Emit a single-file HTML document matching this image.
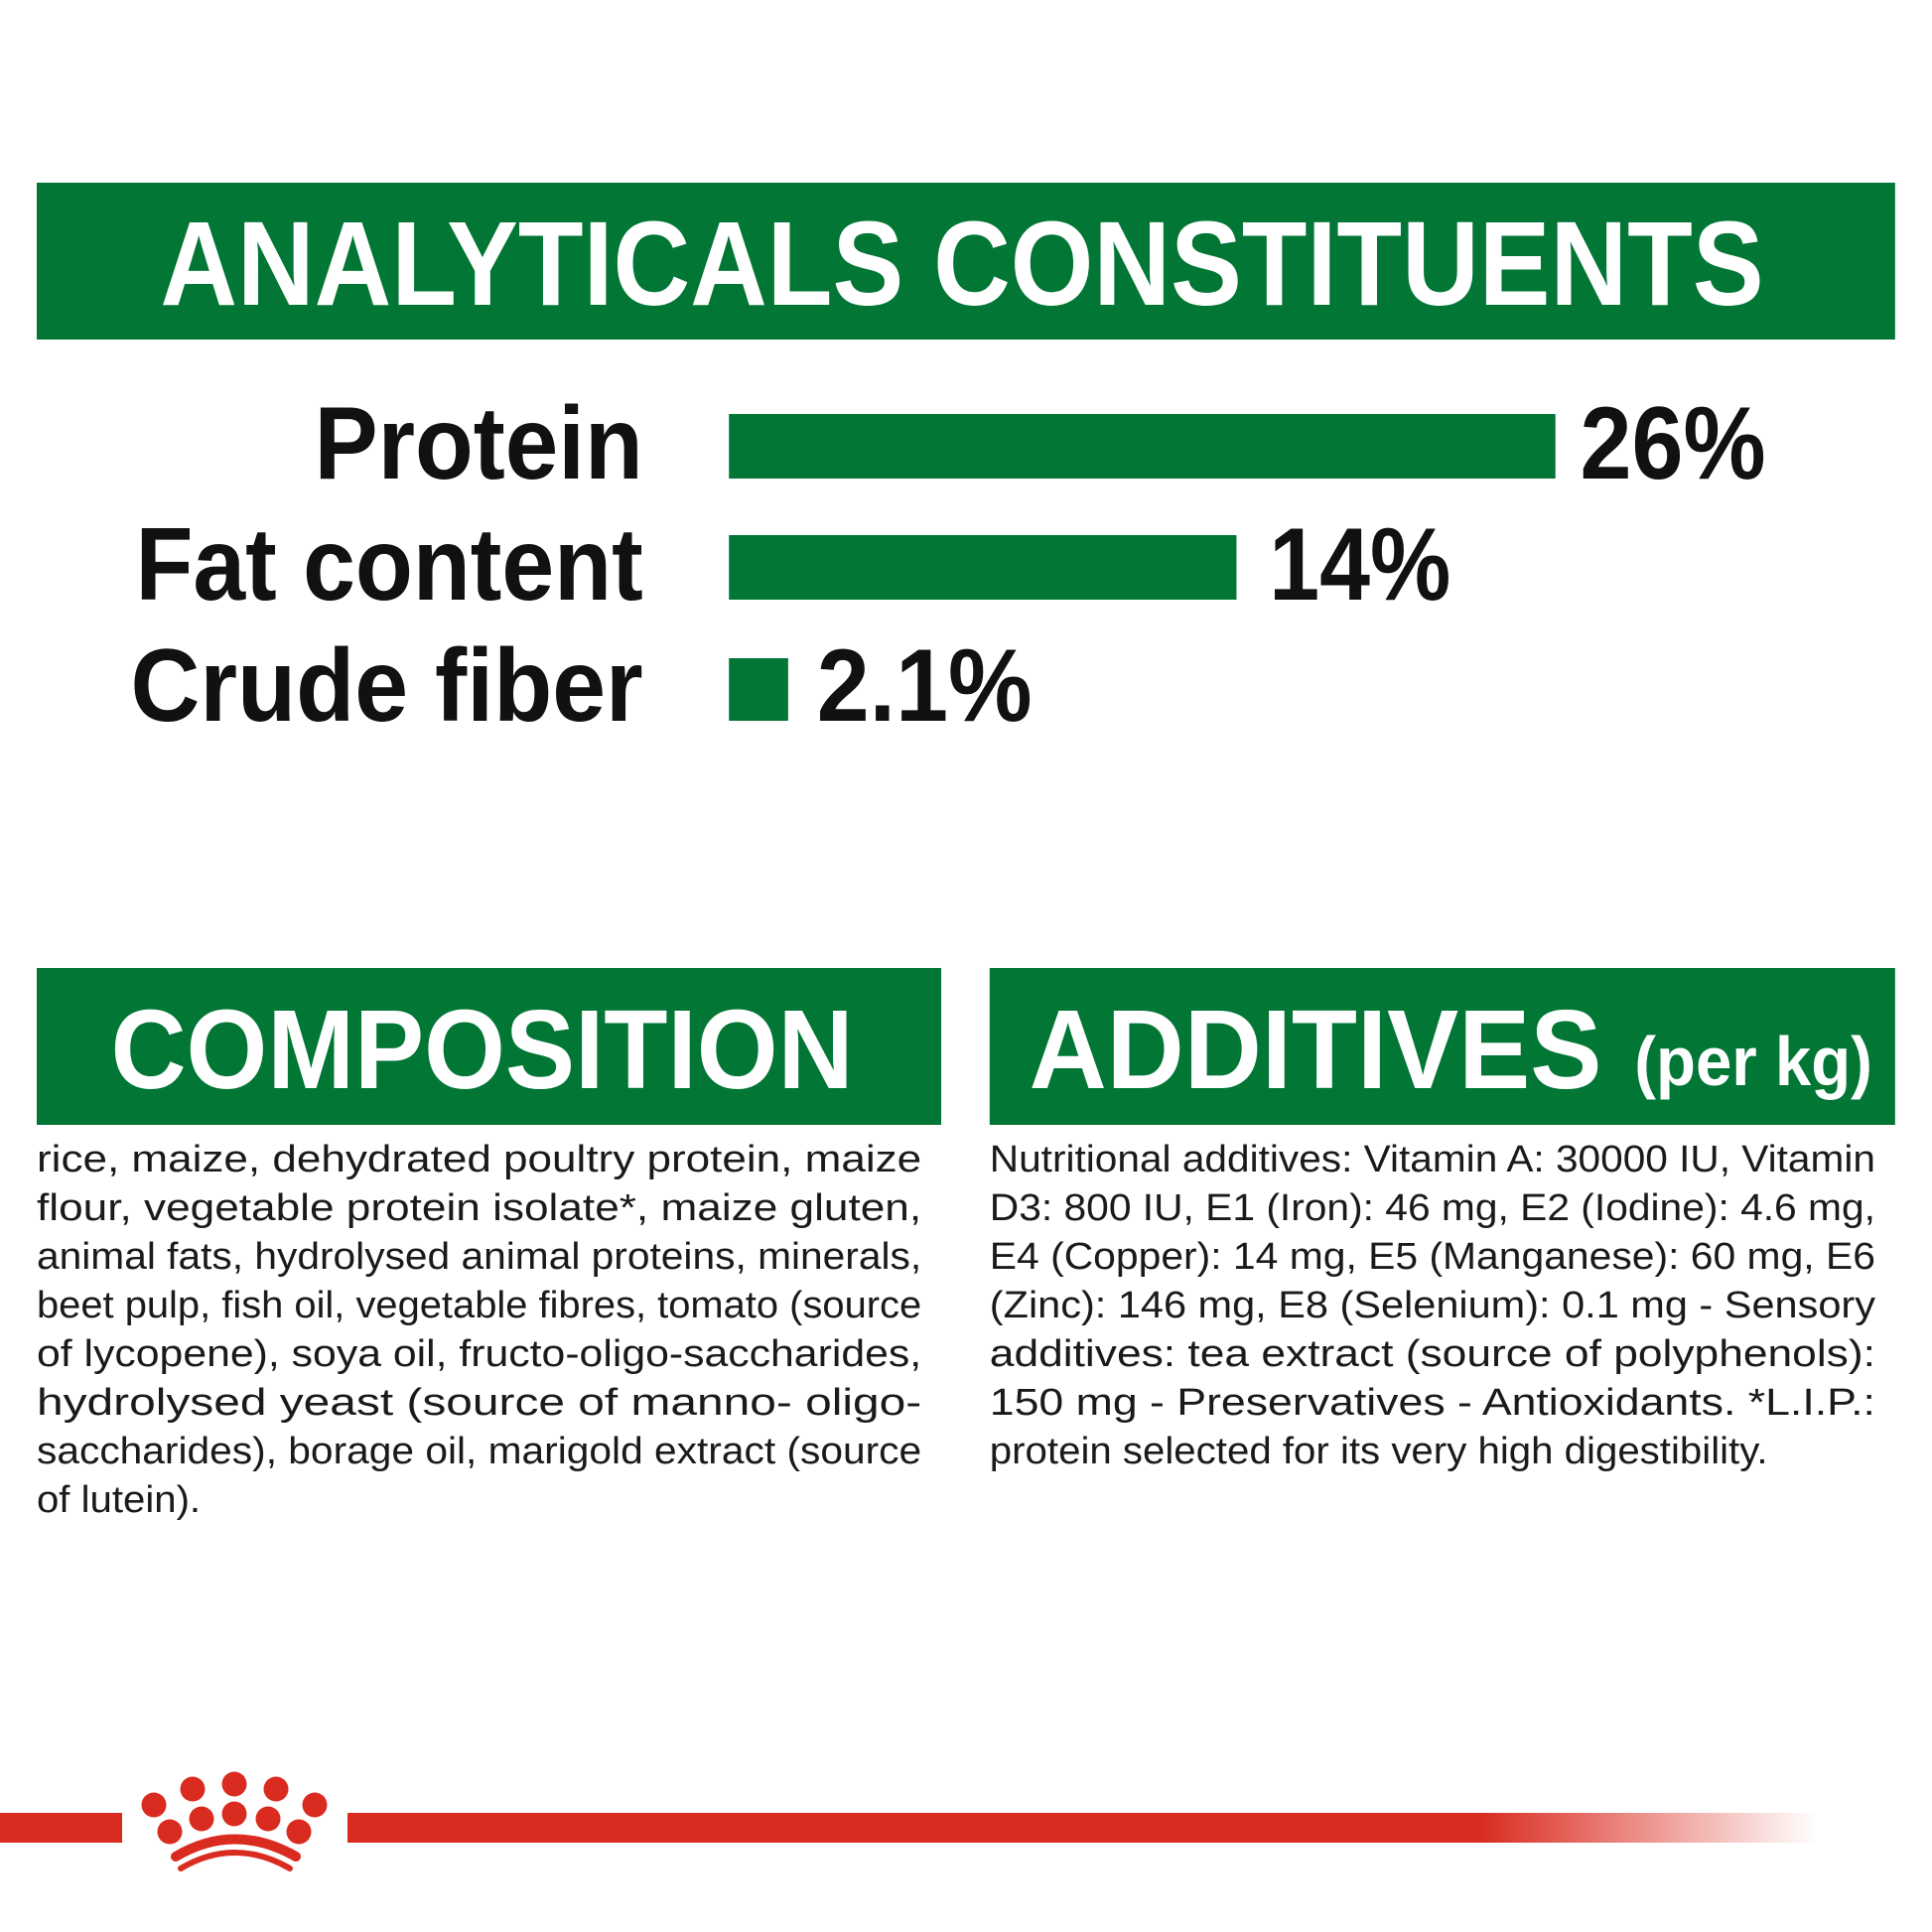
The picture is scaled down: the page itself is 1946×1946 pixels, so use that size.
<!DOCTYPE html>
<html><head><meta charset="utf-8"><style>
html,body{margin:0;padding:0;background:#fff;}
svg{display:block;}
</style></head><body>
<svg width="1946" height="1946" viewBox="0 0 1946 1946" xmlns="http://www.w3.org/2000/svg">
<defs>
<linearGradient id="fade" x1="350" y1="0" x2="1830" y2="0" gradientUnits="userSpaceOnUse">
<stop offset="0" stop-color="#d92b1f"/>
<stop offset="0.77" stop-color="#d92b1f"/>
<stop offset="1" stop-color="#d92b1f" stop-opacity="0"/>
</linearGradient>
</defs>
<g transform="translate(37 0) scale(0.9946 1) translate(-37 0)">
<g transform="translate(0 -1)">
<rect x="37" y="185" width="1882" height="158" fill="#017635"/>
<g font-family="'Liberation Sans Narrow','Liberation Sans',sans-serif" font-weight="bold">
<text x="162" y="308" font-size="121" fill="#fff" textLength="1624" lengthAdjust="spacingAndGlyphs">ANALYTICALS CONSTITUENTS</text>
<rect x="738" y="418" width="837" height="65" fill="#017635"/>
<rect x="738" y="540" width="514" height="65" fill="#017635"/>
<rect x="738" y="664" width="60" height="63" fill="#017635"/>
<g fill="#111" font-size="104">
<text x="318" y="483" textLength="333" lengthAdjust="spacingAndGlyphs">Protein</text>
<text x="137" y="605" textLength="514" lengthAdjust="spacingAndGlyphs">Fat content</text>
<text x="132" y="727" textLength="519" lengthAdjust="spacingAndGlyphs">Crude fiber</text>
<text x="1600" y="483" textLength="188" lengthAdjust="spacingAndGlyphs">26%</text>
<text x="1285" y="605" textLength="184" lengthAdjust="spacingAndGlyphs">14%</text>
<text x="827" y="727" textLength="218" lengthAdjust="spacingAndGlyphs">2.1%</text>
</g>
</g>
</g>
<g transform="translate(0 -5)">
<g font-family="'Liberation Sans Narrow','Liberation Sans',sans-serif" font-weight="bold">
<rect x="37" y="980" width="916" height="158" fill="#017635"/>
<rect x="1002" y="980" width="917" height="158" fill="#017635"/>
<text x="112" y="1101" font-size="113" fill="#fff" textLength="752" lengthAdjust="spacingAndGlyphs">COMPOSITION</text>
<text x="1042" y="1101" font-size="113" fill="#fff" textLength="580" lengthAdjust="spacingAndGlyphs">ADDITIVES</text>
<text x="1655" y="1098" font-size="70" fill="#fff" textLength="241" lengthAdjust="spacingAndGlyphs">(per kg)</text>
</g>
<g font-family="'Liberation Sans Narrow','Liberation Sans',sans-serif" font-size="38" fill="#1a1a1a">
<text x="37" y="1185" textLength="896" lengthAdjust="spacingAndGlyphs">rice, maize, dehydrated poultry protein, maize</text>
<text x="37" y="1234" textLength="896" lengthAdjust="spacingAndGlyphs">flour, vegetable protein isolate*, maize gluten,</text>
<text x="37" y="1283" textLength="896" lengthAdjust="spacingAndGlyphs">animal fats, hydrolysed animal proteins, minerals,</text>
<text x="37" y="1332" textLength="896" lengthAdjust="spacingAndGlyphs">beet pulp, fish oil, vegetable fibres, tomato (source</text>
<text x="37" y="1381" textLength="896" lengthAdjust="spacingAndGlyphs">of lycopene), soya oil, fructo-oligo-saccharides,</text>
<text x="37" y="1430" textLength="896" lengthAdjust="spacingAndGlyphs">hydrolysed yeast (source of manno- oligo-</text>
<text x="37" y="1479" textLength="896" lengthAdjust="spacingAndGlyphs">saccharides), borage oil, marigold extract (source</text>
<text x="37" y="1528" textLength="166" lengthAdjust="spacingAndGlyphs">of lutein).</text>
<text x="1002" y="1185" textLength="897" lengthAdjust="spacingAndGlyphs">Nutritional additives: Vitamin A: 30000 IU, Vitamin</text>
<text x="1002" y="1234" textLength="897" lengthAdjust="spacingAndGlyphs">D3: 800 IU, E1 (Iron): 46 mg, E2 (Iodine): 4.6 mg,</text>
<text x="1002" y="1283" textLength="897" lengthAdjust="spacingAndGlyphs">E4 (Copper): 14 mg, E5 (Manganese): 60 mg, E6</text>
<text x="1002" y="1332" textLength="897" lengthAdjust="spacingAndGlyphs">(Zinc): 146 mg, E8 (Selenium): 0.1 mg - Sensory</text>
<text x="1002" y="1381" textLength="897" lengthAdjust="spacingAndGlyphs">additives: tea extract (source of polyphenols):</text>
<text x="1002" y="1430" textLength="897" lengthAdjust="spacingAndGlyphs">150 mg - Preservatives - Antioxidants. *L.I.P.:</text>
<text x="1002" y="1479" textLength="788" lengthAdjust="spacingAndGlyphs">protein selected for its very high digestibility.</text>
</g>
</g>
</g>
<rect x="0" y="1826" width="123" height="30" fill="#d92b1f"/>
<rect x="350" y="1826" width="1480" height="30" fill="url(#fade)"/>
<g fill="#d92b1f">
<circle cx="236" cy="1797" r="12.5"/>
<circle cx="194" cy="1802" r="12.5"/>
<circle cx="278" cy="1802" r="12.5"/>
<circle cx="155" cy="1818" r="12.5"/>
<circle cx="317" cy="1818" r="12.5"/>
<circle cx="236" cy="1827" r="12.5"/>
<circle cx="203" cy="1832" r="12.5"/>
<circle cx="270" cy="1832" r="12.5"/>
<circle cx="171" cy="1845" r="12.5"/>
<circle cx="301" cy="1845" r="12.5"/>
</g>
<path d="M177 1870 Q236 1835 298 1870" stroke="#d92b1f" stroke-width="10" fill="none" stroke-linecap="round"/>
<path d="M182 1882 Q236 1850 292 1882" stroke="#d92b1f" stroke-width="6" fill="none" stroke-linecap="round"/>
</svg>
</body></html>
